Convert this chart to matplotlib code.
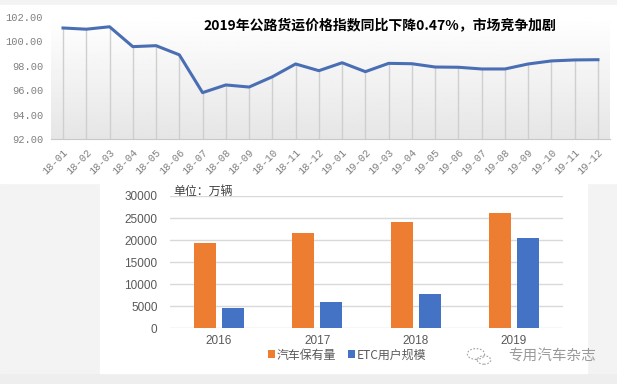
import numpy as np
import matplotlib.pyplot as plt
from matplotlib.patches import Rectangle, Circle

plt.rcParams['font.family'] = ['Noto Sans CJK SC', 'DejaVu Sans']

#%% data
months = ['18-01', '18-02', '18-03', '18-04', '18-05', '18-06', '18-07', '18-08',
          '18-09', '18-10', '18-11', '18-12', '19-01', '19-02', '19-03', '19-04',
          '19-05', '19-06', '19-07', '19-08', '19-09', '19-10', '19-11', '19-12']
index = [101.10, 101.00, 101.20, 99.57, 99.65, 98.90, 95.80, 96.43,
         96.26, 97.10, 98.15, 97.60, 98.25, 97.52, 98.20, 98.17,
         97.90, 97.88, 97.74, 97.74, 98.15, 98.40, 98.48, 98.50]
yticks_top = [92, 94, 96, 98, 100, 102]

years = ['2016', '2017', '2018', '2019']
cars = [19400, 21700, 24000, 26100]
etc = [4600, 6000, 7800, 20500]

title = '2019年公路货运价格指数同比下降0.47%，市场竞争加剧'

W, H = 617, 384
fig = plt.figure(figsize=(W/100, H/100), dpi=100)

def fx(px):
    return px / W
def fy(py):
    return 1 - py / H

# background and white panels
fig.patch.set_facecolor('#eeeeee')
fig.add_artist(Rectangle((0, fy(373)), 1, fy(0) - fy(373) + 1, transform=fig.transFigure,
                         color='#f3f3f3', zorder=-3))
fig.add_artist(Rectangle((0, fy(183)), 1, fy(5) - fy(183), transform=fig.transFigure,
                         color='white', zorder=-2))
fig.add_artist(Rectangle((fx(100), fy(373)), fx(587) - fx(100), fy(183) - fy(373),
                         transform=fig.transFigure, color='white', zorder=-2))

#%% top line chart
ax = fig.add_axes([fx(51.4), fy(139), fx(609.6) - fx(51.4), fy(17) - fy(139)])
ax.set_facecolor('none')
x = np.arange(len(months))
grad = np.linspace(1.0, 0.9, 100).reshape(-1, 1)
ax.imshow(grad, extent=(-0.5, len(months) - 0.5, 92, 102), aspect='auto',
          cmap='gray', vmin=0, vmax=1, zorder=0)
ax.vlines(x, 92, index, color='#cfcfcf', lw=1, zorder=1)
ax.plot(x, index, color='#4a6eb4', lw=2.2, zorder=3)
ax.set_xlim(-0.5, len(months) - 0.5)
ax.set_ylim(92, 102)
ax.set_xticks(x)
ax.set_xticklabels(months, rotation=45, ha='right', rotation_mode='anchor',
                   family='Liberation Mono', fontsize=7.5, color='#808080')
ax.set_yticks(yticks_top)
ax.set_yticklabels(['%.2f' % v for v in yticks_top], family='Liberation Mono',
                   fontsize=7.5, color='#808080')
ax.tick_params(length=0, pad=6)
for s in ['top', 'right', 'left']:
    ax.spines[s].set_visible(False)
ax.spines['bottom'].set_color('#c8c8c8')
fig.text(fx(380), fy(25), title, ha='center', va='center', fontsize=10,
         fontweight='bold', color='black')

#%% bar chart
bx = fig.add_axes([fx(170), fy(328.3), fx(563) - fx(170), fy(196) - fy(328.3)])
bx.set_facecolor('none')
xb = np.arange(len(years))
bw = 0.225
bx.bar(xb - 0.143, cars, bw, color='#ed7d31', label='汽车保有量', zorder=2)
bx.bar(xb + 0.143, etc, bw, color='#4472c4', label='ETC用户规模', zorder=2)
bx.set_xlim(-0.5, 3.5)
bx.set_ylim(0, 30000)
bx.set_yticks(range(0, 30001, 5000))
bx.set_yticklabels([str(v) for v in range(0, 30001, 5000)], family='Liberation Sans',
                   fontsize=8.5, color='#595959')
bx.set_xticks(xb)
bx.set_xticklabels(years, family='Liberation Sans', fontsize=8.5, color='#595959')
bx.tick_params(length=0)
bx.tick_params(axis='y', pad=9)
bx.tick_params(axis='x', pad=5)
bx.grid(axis='y', color='#d9d9d9', lw=1, zorder=0)
for s in bx.spines.values():
    s.set_visible(False)
bx.legend(loc='center', bbox_to_anchor=(fx(347), fy(355)), bbox_transform=fig.transFigure,
          ncol=2, frameon=False, fontsize=8.6, handlelength=0.6, handleheight=0.6,
          handletextpad=0.15, columnspacing=1.0, labelcolor='#595959')
fig.text(fx(173), fy(191), '单位：万辆', ha='left', va='center', fontsize=8.6, color='#404040')

# watermark
fig.text(fx(508), fy(357), '专用汽车杂志', ha='left', va='center', fontsize=10.5, color='#9a9a9a')
fig.add_artist(Circle((fx(476), fy(354)), 0.014, transform=fig.transFigure, fill=False,
                      ls=(0, (1.5, 1.5)), ec='#a0a0a0', lw=0.8))
fig.add_artist(Circle((fx(484), fy(360)), 0.011, transform=fig.transFigure, fill=False,
                      ls=(0, (1.5, 1.5)), ec='#a0a0a0', lw=0.8))

fig.savefig('out.png', dpi=100)
